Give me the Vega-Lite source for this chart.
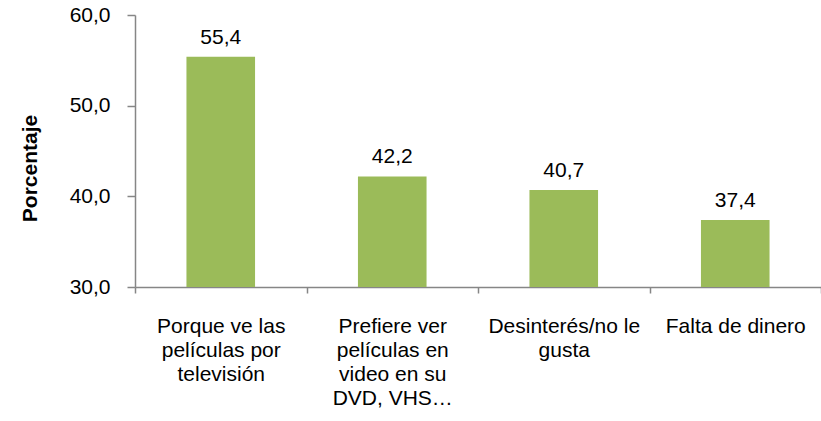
{
  "$schema": "https://vega.github.io/schema/vega-lite/v6.json",
  "autosize": "none",
  "width": 686,
  "height": 272,
  "padding": {"left": 135, "top": 15, "right": 0, "bottom": 134},
  "background": "white",
  "config": {
    "view": {"stroke": null},
    "font": "Liberation Sans",
    "locale": {"number": {"decimal": ",", "thousands": ".", "grouping": [3], "currency": ["", " €"]}},
    "axis": {"domainColor": "#868686", "tickColor": "#868686", "labelColor": "#000000", "titleColor": "#000000", "grid": false}
  },
  "data": {
    "values": [
      {"motivo": "Porque ve las|películas por|televisión", "porcentaje": 55.4},
      {"motivo": "Prefiere ver|películas en|video en su|DVD, VHS…", "porcentaje": 42.2},
      {"motivo": "Desinterés/no le|gusta", "porcentaje": 40.7},
      {"motivo": "Falta de dinero", "porcentaje": 37.4}
    ]
  },
  "encoding": {
    "x": {
      "field": "motivo",
      "type": "nominal",
      "sort": null,
      "scale": {"paddingInner": 0, "paddingOuter": 0},
      "axis": {
        "title": null,
        "labelAngle": 0,
        "labelExpr": "split(datum.label, '|')",
        "labelFontSize": 21,
        "labelLineHeight": 24,
        "labelPadding": 22,
        "labelLimit": 0,
        "ticks": true,
        "tickBand": "extent",
        "tickSize": 6,
        "tickWidth": 1.5,
        "labelBaseline": "top",
        "domainWidth": 1.5
      }
    },
    "y": {
      "field": "porcentaje",
      "type": "quantitative",
      "scale": {"domain": [30, 60], "zero": false, "nice": false},
      "axis": {
        "title": "Porcentaje",
        "values": [30, 40, 50, 60],
        "format": ".1f",
        "labelFontSize": 21,
        "tickSize": 8,
        "tickWidth": 1.5,
        "labelPadding": 17,
        "domainWidth": 1.5,
        "titleFontSize": 21,
        "titleFontWeight": "bold",
        "titleAngle": -90,
        "titleX": -105,
        "titleY": 153,
        "titleAlign": "center",
        "titleBaseline": "middle"
      }
    }
  },
  "layer": [
    {"mark": {"type": "bar", "color": "#9BBB59", "clip": true, "width": {"band": 0.4}}},
    {
      "mark": {"type": "text", "fontSize": 21, "baseline": "bottom", "dy": -9, "color": "#000000"},
      "encoding": {
        "text": {"field": "porcentaje", "type": "quantitative", "format": ".1f"}
      }
    }
  ]
}
